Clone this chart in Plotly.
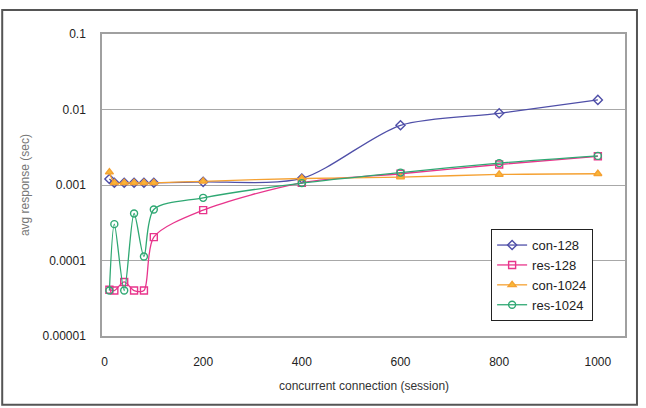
import plotly.graph_objects as go

sessions = [10, 20, 40, 60, 80, 100, 200, 400, 600, 800, 1000]
con_128 = [0.00120, 0.00107, 0.00107, 0.00107, 0.00107, 0.00107, 0.00110, 0.00122, 0.00618, 0.0089, 0.0134]
res_128 = [4.1e-5, 4.0e-5, 5.2e-5, 4.0e-5, 4.0e-5, 2.04e-4, 4.65e-4, 0.00107, 0.00141, 0.00187, 0.00240]
con_1024 = [0.00148, 0.00107, 0.00107, 0.00107, 0.00107, 0.00107, 0.00112, 0.00122, 0.00127, 0.00138, 0.00141]
res_1024 = [4.0e-5, 3.03e-4, 4.0e-5, 4.19e-4, 1.13e-4, 4.73e-4, 6.76e-4, 0.00106, 0.00146, 0.00195, 0.00243]

y_ticks = [1e-5, 1e-4, 1e-3, 1e-2, 0.1]
y_labels = ["0.00001", "0.0001", "0.001", "0.01", "0.1"]
x_ticks = [0, 200, 400, 600, 800, 1000]

series = [
    ("con-128", con_128, "#4F4FA8", "diamond-open", None),
    ("res-128", res_128, "#E8358C", "square-open", None),
    ("con-1024", con_1024, "#F5A132", "triangle-up", "#F8B838"),
    ("res-1024", res_1024, "#2FA873", "circle-open", None),
]

fig = go.Figure()
for name, vals, color, sym, fill in series:
    fig.add_trace(go.Scatter(
        x=sessions, y=vals, name=name, mode="lines+markers",
        line=dict(color=color, width=1.3, shape="spline", smoothing=0.8),
        marker=dict(symbol=sym, size=7, color=fill if fill else color,
                    line=dict(color=color, width=1.4)),
    ))

font_family = "Liberation Sans, Arial, sans-serif"

fig.update_layout(
    width=646, height=408,
    margin=dict(l=102, r=21, t=34, b=72),
    paper_bgcolor="white", plot_bgcolor="white",
    font=dict(family=font_family, size=11, color="#333"),
    showlegend=True,
    legend=dict(
        x=0.744, y=0.354, xanchor="left", yanchor="top",
        bgcolor="white", bordercolor="#222", borderwidth=1,
        font=dict(size=13, color="#222"),
        itemwidth=30,
    ),
    xaxis=dict(
        range=[-5, 1055], tickvals=x_ticks, showgrid=False, zeroline=False,
        showline=True, linecolor="#A0A0A0", linewidth=1.5, mirror=True,
        ticks="", ticklabelstandoff=14, tickfont=dict(size=12, color="#222"),
    ),
    yaxis=dict(
        type="log", range=[-5, -1], tickvals=y_ticks, ticktext=y_labels,
        showgrid=True, gridcolor="#A8A8A8", gridwidth=1.2, zeroline=False,
        showline=True, linecolor="#A0A0A0", linewidth=1.5, mirror=True,
        ticks="", ticklabelstandoff=12, tickfont=dict(size=12, color="#222"),
    ),
    annotations=[
        dict(text="concurrent connection (session)", xref="paper", yref="paper",
             x=0.5, y=-0.166, xanchor="center", yanchor="middle", showarrow=False,
             font=dict(size=12, color="#333")),
        dict(text="avg response (sec)", xref="paper", yref="paper",
             x=-0.147, y=0.5, xanchor="center", yanchor="middle", showarrow=False,
             textangle=-90, font=dict(size=12, color="#777")),
    ],
    shapes=[
        dict(type="rect", xref="paper", yref="paper",
             x0=-0.1908, x1=1.0229, y0=-0.228, y1=1.0795,
             line=dict(color="#555", width=2), fillcolor="rgba(0,0,0,0)", layer="below"),
    ],
)

fig.write_html("out.html")
